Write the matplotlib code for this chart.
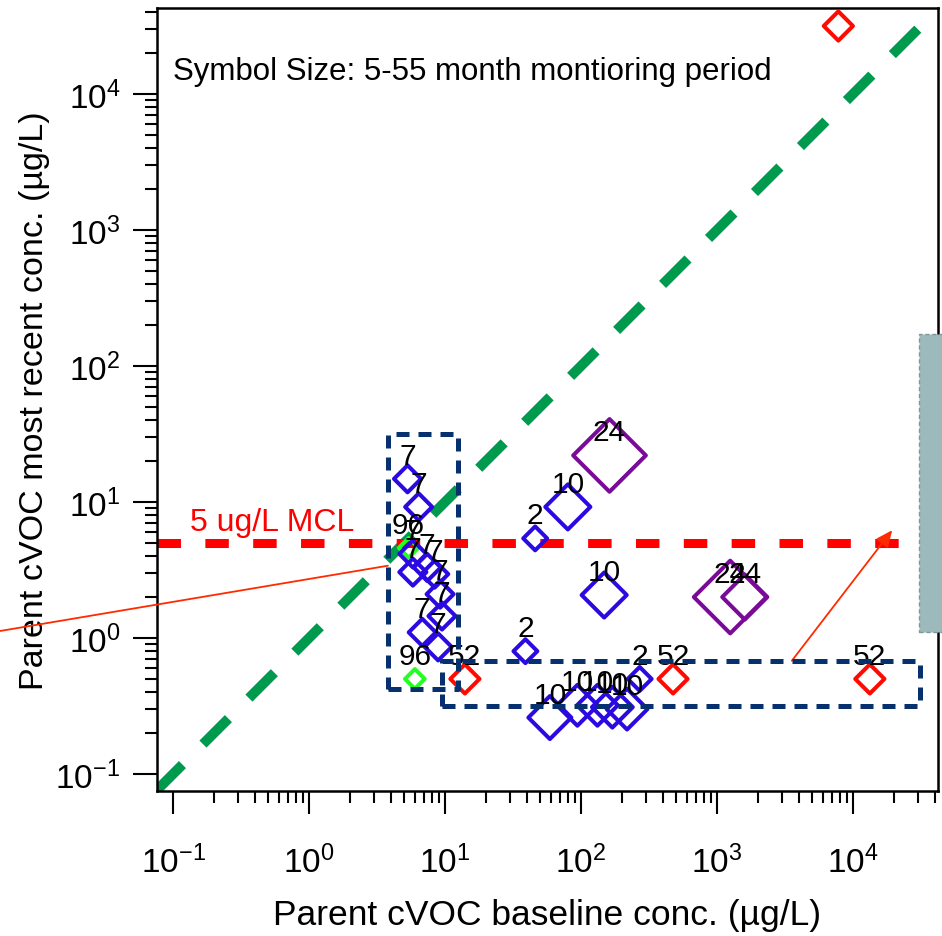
import matplotlib
matplotlib.use("Agg")
import matplotlib.pyplot as plt
from matplotlib.patches import Rectangle
import numpy as np

plt.rcParams['font.family'] = ['Liberation Sans', 'DejaVu Sans']
plt.rcParams['mathtext.fontset'] = 'custom'
plt.rcParams['mathtext.rm'] = 'Liberation Sans'
plt.rcParams['mathtext.it'] = 'Liberation Sans'

# ---------------- data ----------------
# baseline conc (x), most recent conc (y), label, monitoring months
red_x = [7800, 14, 475, 13300]
red_y = [31600, 0.50, 0.50, 0.50]
red_lab = ['52', '52', '52', '52']
red_months = [14, 14, 14, 14]

green_x = [6.0, 5.4]
green_y = [0.50, 4.6]
green_lab = ['96', '96']
green_months = [5, 5]

blue_x = [46, 39, 270,
          80, 148, 59, 94, 132, 170, 218,
          5.3, 6.4, 5.8, 5.8, 7.4, 8.4, 9.2, 9.5, 6.8, 8.9]
blue_y = [5.4, 0.80, 0.50,
          9.2, 2.07, 0.26, 0.32, 0.32, 0.31, 0.30,
          14.8, 9.2, 4.15, 3.05, 3.3, 2.95, 2.1, 1.45, 1.1, 0.86]
blue_lab = ['2', '2', '2',
            '10', '10', '10', '10', '10', '10', '10',
            '7', '7', '7', '7', '7', '7', '7', '7', '7', '7']
blue_months = [9, 9, 9,
               29, 29, 27, 25, 25, 25, 25,
               12, 12, 12, 12, 12, 12, 12, 12, 12, 12]

purple_x = [162, 1250, 1600]
purple_y = [22, 2.0, 2.0]
purple_lab = ['24', '24', '24']
purple_months = [55, 55, 29]

mcl = 5
mcl_xmax = 28000
box1_x = [3.8, 12.5]
box1_y = [0.42, 31.6]
box2_x = [9.5, 31000]
box2_y = [0.316, 0.68]

xlim = (10 ** -1.118, 10 ** 4.625)
ylim = (10 ** -1.125, 10 ** 4.632)
xticks = [0.1, 1, 10, 100, 1000, 10000]
yticks = [0.1, 1, 10, 100, 1000, 10000]
tick_labels = ['$10^{-1}$', '$10^{0}$', '$10^{1}$', '$10^{2}$', '$10^{3}$', '$10^{4}$']

# ---------------- figure ----------------
W, H = 942, 937
fig = plt.figure(figsize=(W / 100, H / 100), dpi=100)
ax = fig.add_axes([157 / W, 1 - 792 / H, 781 / W, 783 / H])
ax.set_xscale('log')
ax.set_yscale('log')
ax.set_xlim(*xlim)
ax.set_ylim(*ylim)


def msize(m):
    hw = 7.3 + 0.54 * np.asarray(m, dtype=float)  # half width in px
    return hw ** 2


groups = [
    (red_x, red_y, red_lab, red_months, '#ff0a00'),
    (green_x, green_y, green_lab, green_months, '#22ff22'),
    (blue_x, blue_y, blue_lab, blue_months, '#2a0ae0'),
    (purple_x, purple_y, purple_lab, purple_months, '#7a0a98'),
]

# green 1:1 line
diag = np.array(xlim)
ax.plot(diag, diag, color='#009a4e', lw=7.2, dashes=(3.6, 2.9),
        solid_capstyle='butt', dash_capstyle='butt', zorder=2)

# MCL red line
ax.plot([xlim[0], mcl_xmax], [mcl, mcl], color='#ff0000', lw=6.5,
        dashes=(2.6, 2.7), dash_capstyle='butt', zorder=2)
ax.text(0.042, 0.3435, '5 ug/L MCL', color='#ff0000', fontsize=23,
        transform=ax.transAxes, ha='left', va='center')

label_off_pt = 16.5
ax_top_px = ax.transAxes.transform((0, 1))[1]
for gx, gy, gl, gm, col in groups:
    ax.scatter(gx, gy, s=msize(gm), marker='D', facecolors='none',
               edgecolors=col, linewidths=2.9, zorder=3, clip_on=True)
    for x, y, l in zip(gx, gy, gl):
        # labels whose anchor falls outside the plot frame are not shown
        ypx = ax.transData.transform((x, y))[1] + label_off_pt * fig.dpi / 72
        if ypx > ax_top_px:
            continue
        ax.annotate(l, (x, y), xytext=(0, label_off_pt), textcoords='offset points',
                    ha='center', va='center', fontsize=21.5, color='black',
                    zorder=4, annotation_clip=True, clip_on=True)

# dashed navy boxes
navy = '#06306e'
for bx, by in [(box1_x, box1_y), (box2_x, box2_y)]:
    ax.plot([bx[0], bx[1], bx[1], bx[0], bx[0]],
            [by[0], by[0], by[1], by[1], by[0]],
            color=navy, lw=3.6, dashes=(2.6, 1.8), dash_capstyle='butt',
            zorder=5)

# arrows
ax.annotate('', xy=(box1_x[0], 3.4), xycoords='data',
            xytext=(0, 1 - 632 / H), textcoords='figure fraction',
            arrowprops=dict(arrowstyle='-', color='#ff2a00', lw=1.3,
                            shrinkA=0, shrinkB=0), annotation_clip=False)
ax.annotate('', xy=(19400, 6.2), xycoords='data',
            xytext=(3550, box2_y[1]), textcoords='data',
            arrowprops=dict(arrowstyle='-|>,head_length=1.0,head_width=0.45',
                            color='#ff2a00', lw=1.3, shrinkA=0, shrinkB=0))

ax.text(0.0205, 0.9195, 'Symbol Size: 5-55 month montioring period',
        transform=ax.transAxes, fontsize=22.5, ha='left', va='center')

# ticks
ax.set_xticks(xticks)
ax.set_xticklabels(tick_labels)
ax.set_yticks(yticks)
ax.set_yticklabels(tick_labels)
minors = [s * 10.0 ** e for e in range(-1, 5) for s in range(2, 10)]
ax.set_xticks([m for m in minors if xlim[0] < m < xlim[1]], minor=True)
ax.set_yticks([m for m in minors if ylim[0] < m < ylim[1]], minor=True)
ax.tick_params(axis='x', which='major', direction='out', length=16.5,
               width=1.5, labelsize=24, pad=22)
ax.tick_params(axis='y', which='major', direction='out', length=17.5,
               width=1.5, labelsize=24, pad=9)
ax.tick_params(axis='both', which='minor', direction='out', length=8.6,
               width=1.5)
for sp in ax.spines.values():
    sp.set_linewidth(1.8)

ax.set_xlabel('Parent cVOC baseline conc. (µg/L)', fontsize=25.5, labelpad=14)
ax.set_ylabel('Parent cVOC most recent conc. (µg/L)', fontsize=24.5, labelpad=4)

# grey side panel
fig.add_artist(Rectangle((919 / W, 1 - 633 / H), 40 / W, 298 / H,
                         transform=fig.transFigure, facecolor='#9cb9bc',
                         edgecolor='#7c9898', lw=1.0, ls=(0, (3, 2)),
                         zorder=10, clip_on=False))

fig.savefig('out.png', dpi=100)
